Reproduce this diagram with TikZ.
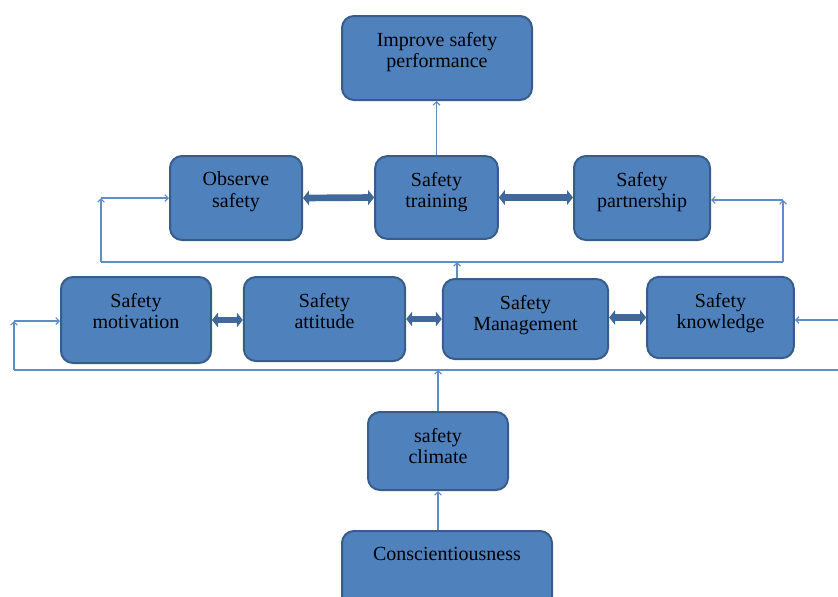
\documentclass[tikz,border=0pt]{standalone}
\usepackage{fontspec}
\setmainfont{Liberation Serif}
\usetikzlibrary{arrows.meta}

\definecolor{boxfill}{HTML}{4F81BD}
\definecolor{boxline}{HTML}{385D8A}
\definecolor{linkblue}{HTML}{5F8DC8}
\definecolor{bigarrow}{HTML}{41689B}

\begin{document}
\begin{tikzpicture}[x=0.75pt,y=-0.75pt,
  box/.style={rectangle,rounded corners=9pt,draw=boxline,line width=1.5pt,fill=boxfill,inner sep=0pt},
  boxtext/.style={anchor=north,yshift=-9.3pt,align=center,font=\fontsize{15}{16}\selectfont,text=black},
  link/.style={draw=linkblue,line width=0.9pt},
  arr/.style={link,-{Straight Barb[length=2.5pt,width=5pt]}},
  both/.style={draw=bigarrow,line width=5pt,{Triangle[length=4.5pt,width=11pt]}-{Triangle[length=4.5pt,width=11pt]}}]
\useasboundingbox (0,0) rectangle (838,596);

\node[box,minimum width=142.5pt,minimum height=63pt,label={[boxtext]north:Improve safety\\performance}] at (437,58) (improve) {};
\node[box,minimum width=99pt,minimum height=63pt,label={[boxtext]north:Observe\\safety}] at (236,198) (observe) {};
\node[box,minimum width=92pt,minimum height=62pt,label={[boxtext]north:Safety\\training}] at (436.5,197.5) (train) {};
\node[box,minimum width=102pt,minimum height=63pt,label={[boxtext]north:Safety\\partnership}] at (642,198) (partner) {};
\node[box,minimum width=112.5pt,minimum height=64.5pt,label={[boxtext]north:Safety\\motivation}] at (136,320) (motiv) {};
\node[box,minimum width=121pt,minimum height=63pt,label={[boxtext]north:Safety\\attitude}] at (324.5,319) (attitude) {};
\node[box,minimum width=124pt,minimum height=60pt,label={[boxtext]north:Safety\\Management}] at (525.5,319) (manage) {};
\node[box,minimum width=110pt,minimum height=61pt,label={[boxtext]north:Safety\\knowledge}] at (720.5,317.5) (know) {};
\node[box,minimum width=105pt,minimum height=58.5pt,label={[boxtext]north:safety\\climate}] at (438,451) (climate) {};
\node[box,minimum width=157.5pt,minimum height=63pt,label={[boxtext]north:Conscientiousness}] at (447,573) (consc) {};

% corners of the two feedback loops
\coordinate (c1) at (101,262);
\coordinate (c2) at (783,262);
\coordinate (c3) at (101,198);
\coordinate (c4) at (783,200);
\coordinate (m1) at (457,262);
\coordinate (d1) at (14,370);
\coordinate (d2) at (850,370);
\coordinate (d3) at (14,321);
\coordinate (d4) at (850,320);

\draw[both] (observe.east) -- (train.west);
\draw[both] (train.east) -- (partner.west |- train.east);
\draw[both] (motiv.east) -- (attitude.west |- motiv.east);
\draw[both] (attitude.east) -- (manage.west |- attitude.east);
\draw[both] (manage.east |- know.west) -- (know.west);

\draw[arr] (train.north) -- (train.north |- improve.south);

\draw[link] (c1) -- (c2);
\draw[arr] (m1 |- manage.north) -- (m1);
\draw[arr] (c1) -- (c3);
\draw[arr] (c3) -- (observe.west);
\draw[arr] (c2) -- (c4);
\draw[arr] (c4) -- (c4 -| partner.east);

\draw[link] (d1) -- (d2);
\draw[arr] (d1) -- (d3);
\draw[arr] (d3) -- (d3 -| motiv.west);
\draw[link] (d2) -- (d4);
\draw[arr] (d4) -- (d4 -| know.east);
\draw[arr] (climate.north) -- (climate.north |- d1);

\draw[arr] (climate.south |- consc.north) -- (climate.south);
\end{tikzpicture}
\end{document}
